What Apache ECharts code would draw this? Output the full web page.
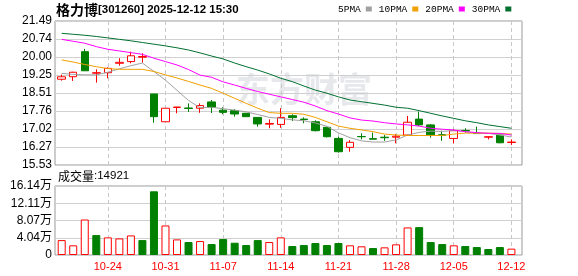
<!DOCTYPE html>
<html><head><meta charset="utf-8">
<script src="https://cdn.jsdelivr.net/npm/echarts@6/dist/echarts.min.js"></script>
<style>html,body{margin:0;padding:0;background:#fff}#c{width:578px;height:276px}</style>
</head><body><div id="c"></div><script>
// ---- data ----
const dates = ['10-20','10-21','10-22','10-23','10-24','10-27','10-28','10-29','10-30','10-31',
  '11-03','11-04','11-05','11-06','11-07','11-10','11-11','11-12','11-13','11-14',
  '11-17','11-18','11-19','11-20','11-21','11-24','11-25','11-26','11-27','11-28',
  '12-01','12-02','12-03','12-04','12-05','12-08','12-09','12-10','12-11','12-12'];
const open  = [19.08,19.185,20.22,19.33,19.35,19.74,19.81,19.99,18.47,17.32,
  17.91,17.89,17.88,18.14,17.80,17.78,17.67,17.50,17.22,17.21,
  17.57,17.43,17.32,17.09,16.63,16.26,16.71,16.62,16.68,16.68,
  16.77,17.43,17.19,16.78,16.63,16.96,16.85,16.68,16.77,16.46];
const close = [19.18,19.37,19.43,19.35,19.53,19.78,20.05,20.02,17.53,17.88,
  17.93,17.87,17.99,17.92,17.71,17.64,17.53,17.23,17.25,17.50,
  17.49,17.41,16.95,16.70,16.08,16.47,16.70,16.60,16.66,16.72,
  17.30,17.19,16.78,16.76,16.95,16.94,16.83,16.70,16.45,16.48];
const low   = [19.02,19.01,19.43,18.94,19.12,19.64,19.74,19.76,17.28,17.32,
  17.67,17.73,17.69,17.68,17.63,17.53,17.52,17.12,17.05,17.07,
  17.35,17.26,16.92,16.67,16.04,16.08,16.59,16.59,16.53,16.43,
  16.73,17.14,16.66,16.53,16.43,16.87,16.82,16.59,16.43,16.36];
const high  = [19.27,19.39,20.33,19.49,19.57,19.95,20.22,20.15,18.47,17.88,
  17.93,18.08,18.08,18.22,17.92,17.84,17.68,17.51,17.42,17.88,
  17.63,17.50,17.38,17.10,16.70,16.56,16.84,16.87,16.77,16.81,
  17.56,17.74,17.23,16.95,17.01,17.05,17.12,16.71,16.78,16.59];
const ma5  = [19.32,19.28,19.26,19.26,19.37,19.51,19.64,19.75,19.40,19.04,
  18.62,18.20,17.90,17.92,17.86,17.80,17.73,17.62,17.50,17.46,
  17.40,17.36,17.27,17.13,16.86,16.66,16.53,16.48,16.48,16.57,
  16.77,16.88,16.93,16.92,16.96,16.91,16.84,16.84,16.77,16.69];
const ma10 = [19.88,19.79,19.69,19.60,19.52,19.49,19.49,19.49,19.40,19.26,
  19.13,18.99,18.84,18.70,18.50,18.29,18.08,17.88,17.70,17.67,
  17.67,17.63,17.50,17.32,17.14,17.05,16.98,16.91,16.81,16.77,
  16.75,16.75,16.75,16.75,16.81,16.85,16.85,16.85,16.83,16.81];
const ma20 = [20.73,20.65,20.57,20.43,20.32,20.25,20.18,20.11,19.95,19.81,
  19.67,19.48,19.25,19.16,18.97,18.84,18.70,18.57,18.46,18.35,
  18.24,18.13,17.97,17.78,17.64,17.48,17.39,17.35,17.28,17.23,
  17.19,17.14,17.05,17.01,16.98,16.91,16.87,16.84,16.84,16.77];
const ma30 = [20.98,20.94,20.90,20.85,20.79,20.73,20.67,20.60,20.53,20.46,
  20.38,20.29,20.17,20.04,19.92,19.75,19.60,19.46,19.30,19.12,
  18.98,18.80,18.63,18.50,18.35,18.22,18.15,18.08,18.01,17.92,
  17.88,17.78,17.67,17.56,17.46,17.36,17.28,17.19,17.12,17.05];
const volume = [3.49,2.26,8.30,4.66,4.12,3.88,4.58,3.49,14.90,6.91,
  3.65,3.03,3.26,2.56,3.73,2.87,2.33,3.49,3.03,4.12,
  2.10,2.33,2.80,2.33,2.80,2.26,2.03,1.63,1.79,2.49,
  6.45,6.52,3.03,2.56,2.26,2.10,1.86,1.40,1.86,1.49];
const priceTicks = ['15.53','16.27','17.02','17.76','18.51','19.25','20.00','20.74','21.49'];
const volumeTicks = ['0','4.04万','8.07万','12.11万','16.14万'];
const priceMin = 15.53, priceMax = 21.49, volumeMax = 16.14;
const lastVolume = '14921';

// ---- chart ----
const RED = '#ff0000', GREEN = '#008000';
const up = close.map((c, i) => i === 0 ? c >= open[i] : c >= close[i - 1]);
const candleData = open.map((o, i) => [o, close[i], low[i], high[i]]);
const volData = volume.map((v, i) => ({
  value: v,
  itemStyle: up[i] ? {color: '#ffffff', borderColor: RED, borderWidth: 1}
                   : {color: GREEN, borderColor: GREEN, borderWidth: 1}
}));
const every5 = (i) => i % 5 === 4;
const FONT = "'Liberation Sans', 'Noto Sans CJK SC', sans-serif";
const splitSolid = {show: true, lineStyle: {color: '#d0d0d0', width: 1}};
const splitDash = {show: true, interval: every5, lineStyle: {color: '#c8c8c8', width: 1, type: [4, 3]}};

const chart = echarts.init(document.getElementById('c'));
chart.setOption({
  animation: false,
  backgroundColor: '#ffffff',
  title: {
    text: '{a|格力博}{b|[301260] 2025-12-12 15:30}',
    left: 56, top: 2, padding: 0,
    textStyle: {rich: {
      a: {fontFamily: 'Noto Sans CJK SC', fontSize: 14, color: '#000', lineHeight: 16},
      b: {fontFamily: 'Liberation Sans', fontSize: 11.5, color: '#000', lineHeight: 16}
    }}
  },
  legend: {
    data: ['5PMA', '10PMA', '20PMA', '30PMA'],
    left: 338, top: 4, padding: 0, align: 'right', icon: 'rect',
    itemWidth: 6, itemHeight: 5, itemGap: 7, selectedMode: false,
    textStyle: {fontFamily: 'Liberation Mono', fontSize: 9.5, color: '#000'}
  },
  grid: [
    {left: 55, top: 21, width: 467, height: 144, show: true, borderColor: '#999', borderWidth: 1, backgroundColor: 'transparent'},
    {left: 61.7, top: 21, width: 449.7, height: 144},
    {left: 55, top: 186, width: 467, height: 69, show: true, borderColor: '#999', borderWidth: 1, backgroundColor: 'transparent'},
    {left: 61.7, top: 186, width: 449.7, height: 69}
  ],
  xAxis: [
    {type: 'value', gridIndex: 0, min: 0, max: 1, show: false},
    {type: 'category', gridIndex: 1, data: dates, boundaryGap: false,
      axisLine: {show: false}, axisTick: {show: false}, axisLabel: {show: false}, splitLine: splitDash},
    {type: 'value', gridIndex: 2, min: 0, max: 1, show: false},
    {type: 'category', gridIndex: 3, data: dates, boundaryGap: false,
      axisLine: {show: false}, axisTick: {show: false}, splitLine: splitDash,
      axisLabel: {show: true, interval: every5, color: RED, fontFamily: 'Liberation Sans', fontSize: 11, margin: 6}}
  ],
  yAxis: [
    {type: 'value', gridIndex: 0, min: 0, max: priceTicks.length - 1, interval: 1,
      axisLine: {show: false}, axisTick: {show: false}, splitLine: splitSolid,
      axisLabel: {formatter: (v) => priceTicks[v], color: '#000', fontFamily: FONT, fontSize: 12, margin: 3}},
    {type: 'value', gridIndex: 1, min: priceMin, max: priceMax, show: false, splitLine: {show: false}},
    {type: 'value', gridIndex: 2, min: 0, max: volumeTicks.length - 1, interval: 1,
      axisLine: {show: false}, axisTick: {show: false}, splitLine: splitSolid,
      axisLabel: {formatter: (v) => volumeTicks[v], color: '#000', fontFamily: FONT, fontSize: 12, margin: 3}},
    {type: 'value', gridIndex: 3, min: 0, max: volumeMax, show: false, splitLine: {show: false}}
  ],
  graphic: [
    {type: 'text', left: 236, top: 72, z: -1, silent: true,
      style: {text: '东方财富', fontFamily: 'Noto Sans CJK SC', fontWeight: 'bold', fontSize: 34, fill: '#e6e8ec'}},
    {type: 'text', left: 58, top: 170,
      style: {text: '{a|成交量}{b|:' + lastVolume + '}', rich: {
        a: {fontFamily: 'Noto Sans CJK SC', fontSize: 12, fill: '#000', lineHeight: 14},
        b: {fontFamily: 'Liberation Sans', fontSize: 11.5, fill: '#000', lineHeight: 14}
      }}}
  ],
  series: [
    {type: 'candlestick', xAxisIndex: 1, yAxisIndex: 1, data: candleData, barWidth: 8, clip: false,
      itemStyle: {color: '#ffffff', color0: GREEN, borderColor: RED, borderColor0: GREEN, borderWidth: 1}},
    {name: '5PMA', type: 'line', xAxisIndex: 1, yAxisIndex: 1, data: ma5, showSymbol: false, symbol: 'none',
      lineStyle: {color: '#a0a0a0', width: 1}, itemStyle: {color: '#a0a0a0'}},
    {name: '10PMA', type: 'line', xAxisIndex: 1, yAxisIndex: 1, data: ma10, showSymbol: false, symbol: 'none',
      lineStyle: {color: '#f0a000', width: 1}, itemStyle: {color: '#f0a000'}},
    {name: '20PMA', type: 'line', xAxisIndex: 1, yAxisIndex: 1, data: ma20, showSymbol: false, symbol: 'none',
      lineStyle: {color: '#ff00ff', width: 1}, itemStyle: {color: '#ff00ff'}},
    {name: '30PMA', type: 'line', xAxisIndex: 1, yAxisIndex: 1, data: ma30, showSymbol: false, symbol: 'none',
      lineStyle: {color: '#007030', width: 1}, itemStyle: {color: '#007030'}},
    {type: 'bar', xAxisIndex: 3, yAxisIndex: 3, data: volData, barWidth: 8, clip: false}
  ]
});
</script></body></html>
